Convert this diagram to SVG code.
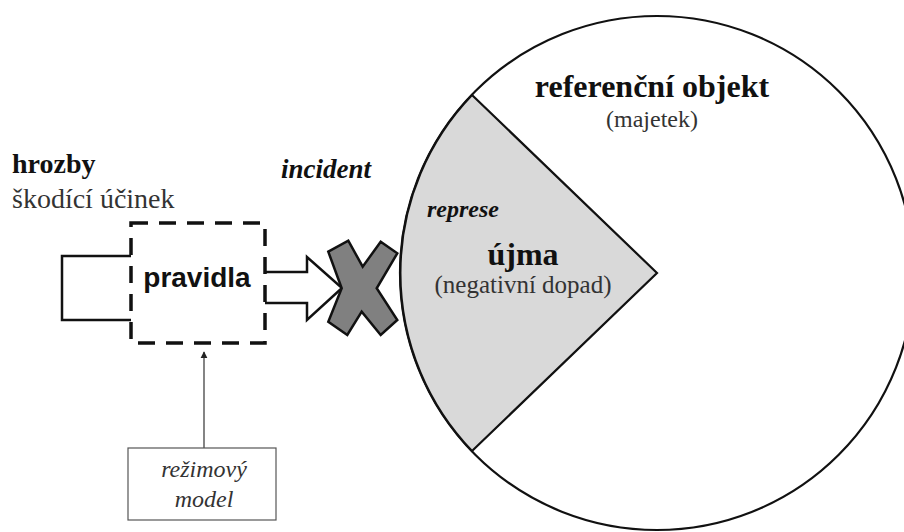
<svg xmlns="http://www.w3.org/2000/svg" width="904" height="532" viewBox="0 0 904 532">
  <style>
    .serif { font-family: "Liberation Serif", "Times New Roman", serif; }
    .sans { font-family: "Liberation Sans", Arial, sans-serif; }
    .b { font-weight: bold; fill: #111; }
    .r { fill: #333; }
    .i { font-style: italic; }
    .line { fill: none; stroke: #111; stroke-width: 2.5; }
  </style>
  <defs>
    <marker id="tri" viewBox="0 0 10 10" refX="9" refY="5" markerWidth="7" markerHeight="9" markerUnits="userSpaceOnUse" orient="auto">
      <path d="M0,0 L10,5 L0,10 Z" fill="#222"/>
    </marker>
  </defs>
  <rect width="904" height="532" fill="#fff"/>

  <g id="referencni-objekt">
    <circle cx="657" cy="273" r="257" fill="#fff" stroke="#111" stroke-width="2.2"/>
    <text class="serif b" x="652" y="97" font-size="32" text-anchor="middle">referenční objekt</text>
    <text class="serif r" x="652" y="127" font-size="24" text-anchor="middle">(majetek)</text>
  </g>

  <g id="ujma">
    <path d="M657,273 L472,95 A257,257 0 0 0 472,451 Z" fill="#d9d9d9" stroke="#111" stroke-width="2.2" stroke-linejoin="miter"/>
    <text class="serif b i" x="427" y="217" font-size="24">represe</text>
    <text class="serif b" x="523" y="265" font-size="32" text-anchor="middle">újma</text>
    <text class="serif r" x="523" y="293" font-size="25" text-anchor="middle">(negativní dopad)</text>
  </g>

  <g id="hrozby">
    <text class="serif b" x="12" y="173" font-size="28">hrozby</text>
    <text class="serif r" x="12" y="208" font-size="28">škodící účinek</text>
  </g>

  <g id="incident">
    <text class="serif b i" x="281" y="178" font-size="27">incident</text>
  </g>

  <g id="connectors">
    <polyline class="line" points="131,256 62,256 62,320 131,320"/>
    <path d="M265,272 L307,272 L307,257 L342,288 L307,320 L307,303 L265,303" fill="#fff" stroke="#111" stroke-width="2.5" stroke-linejoin="miter"/>
    <line x1="204" y1="448" x2="204" y2="352" stroke="#333" stroke-width="1.2" marker-end="url(#tri)"/>
  </g>

  <g id="pravidla">
    <rect x="131" y="223" width="134" height="120" fill="none" stroke="#111" stroke-width="3.5" stroke-dasharray="17 11"/>
    <text class="sans b" x="197" y="287" font-size="28" text-anchor="middle">pravidla</text>
  </g>

  <g id="x-mark">
    <polygon points="328.3,251.7 348.3,240.7 362.7,266.7 380.7,241.7 397.3,253.3 376.7,288.3 397.3,320 380.7,335 361.7,311.7 347.3,335 328.3,321.7 341.7,288.3" fill="#808080" stroke="#111" stroke-width="2.5" stroke-linejoin="miter"/>
  </g>

  <g id="rezimovy-model">
    <rect x="128" y="448" width="148" height="72" fill="#fff" stroke="#555" stroke-width="1.2"/>
    <text class="serif r i" x="204" y="477" font-size="24" text-anchor="middle">režimový</text>
    <text class="serif r i" x="204" y="507" font-size="24" text-anchor="middle">model</text>
  </g>
</svg>
